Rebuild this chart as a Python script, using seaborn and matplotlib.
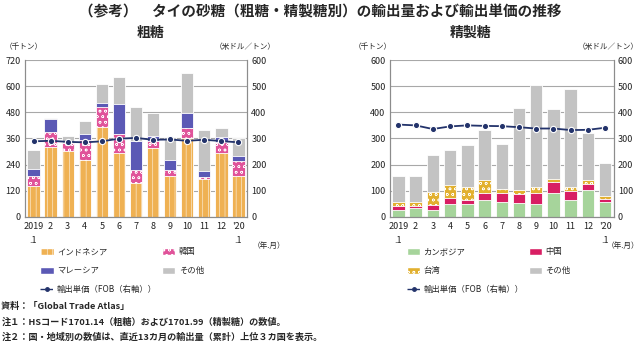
import numpy as np
import pandas as pd
import matplotlib
matplotlib.use("Agg")
import matplotlib.pyplot as plt
import seaborn as sns
from matplotlib.patches import Patch
from matplotlib.lines import Line2D

sns.set_theme(style="white")
plt.rcParams['font.family'] = ['Noto Sans CJK JP', 'DejaVu Sans']
plt.rcParams['hatch.linewidth'] = 0.35

months = ["2019\n.1", "2", "3", "4", "5", "6", "7", "8", "9", "10", "11", "12", "'20\n.1"]

# 粗糖 (thousand tons)
raw_indonesia = [142, 320, 304, 262, 412, 294, 156, 314, 189, 363, 174, 291, 189]
raw_korea     = [44, 69, 35, 89, 91, 87, 61, 32, 28, 43, 11, 51, 66]
raw_malaysia  = [35, 61, 0, 29, 19, 136, 132, 26, 42, 70, 25, 24, 23]
raw_other     = [87, 3, 32, 58, 87, 124, 157, 107, 107, 186, 187, 44, 83]
raw_price     = [289, 291, 287, 285, 289, 299, 302, 295, 296, 291, 295, 290, 285]

# 精製糖
ref_cambodia = [25, 33, 25, 51, 51, 66, 57, 52, 48, 92, 66, 104, 57]
ref_china    = [16, 10, 19, 20, 15, 24, 33, 36, 42, 43, 34, 23, 10]
ref_taiwan   = [15, 13, 51, 51, 50, 51, 17, 16, 23, 10, 13, 14, 11]
ref_other    = [99, 102, 141, 134, 159, 192, 173, 312, 392, 268, 376, 179, 129]
ref_price    = [353, 350, 336, 346, 350, 348, 347, 343, 338, 338, 332, 333, 341]

C_INDO = "#efb153"
C_KOR = "#e0539a"
C_MAL = "#5b59b5"
C_OTH = "#c3c3c3"
C_CAM = "#a6d49b"
C_CHN = "#d81e63"
C_TWN = "#e2b02f"
C_LINE = "#23336b"

H_INDO = "|||"
H_KOR = "ooo"
H_TWN = "ooo"

fig = plt.figure(figsize=(6.4, 3.41), dpi=100)

def stacked(ax, series, colors, hatches):
    n = len(months)
    cum = np.cumsum(np.array(series), axis=0)
    for i in range(len(series) - 1, -1, -1):
        df = pd.DataFrame({"m": months, "v": cum[i]})
        sns.barplot(data=df, x="m", y="v", ax=ax, color=colors[i], saturation=1,
                    width=0.72, edgecolor="white", linewidth=0.6,
                    hatch=hatches[i], order=months)
    ax.set_xlim(-0.5, n - 0.5)

def style_axes(ax, ax2, ymax, ystep, rmax, rstep):
    ax.set_ylim(0, ymax)
    ax.set_yticks(np.arange(0, ymax + 1, ystep))
    ax2.set_ylim(0, rmax)
    ax2.set_yticks(np.arange(0, rmax + 1, rstep))
    ax.grid(axis="y", color="#a8a8a8", linewidth=0.8)
    ax.set_axisbelow(True)
    for a in (ax, ax2):
        for s in a.spines.values():
            s.set_color("#8c8c8c")
            s.set_linewidth(0.8)
        a.spines["top"].set_visible(False)
    ax.set_xlabel("")
    ax.set_ylabel("")
    ax2.set_xlabel("")
    ax2.set_ylabel("")
    ax.tick_params(axis="y", labelsize=6.5, length=0, pad=3, colors="#222222")
    ax2.tick_params(axis="y", labelsize=6.5, length=0, pad=3, colors="#222222")
    ax.set_xticks(range(len(months)))
    ax.set_xticklabels(months, fontsize=6.5, linespacing=1.7, color="#222222")
    ax.tick_params(axis="x", length=0, pad=4)
    ax.set_xticks(np.arange(-0.5, len(months)), minor=True)
    ax.tick_params(axis="x", which="minor", length=3, color="#8c8c8c", width=0.8)

def price_line(ax2, price):
    sns.lineplot(x=np.arange(len(months)), y=price, ax=ax2, color=C_LINE,
                 linewidth=1.3, marker="o", markersize=4.5,
                 markerfacecolor=C_LINE, markeredgecolor="white", markeredgewidth=0.8)

# ---- Left: 粗糖
axL = fig.add_axes([0.039, 0.364, 0.347, 0.46])
stacked(axL, [raw_indonesia, raw_korea, raw_malaysia, raw_other],
        [C_INDO, C_KOR, C_MAL, C_OTH], [H_INDO, H_KOR, None, None])
axL2 = axL.twinx()
price_line(axL2, raw_price)
style_axes(axL, axL2, 720, 120, 600, 100)

# ---- Right: 精製糖
axR = fig.add_axes([0.609, 0.364, 0.35, 0.46])
stacked(axR, [ref_cambodia, ref_china, ref_taiwan, ref_other],
        [C_CAM, C_CHN, C_TWN, C_OTH], [None, None, H_TWN, None])
axR2 = axR.twinx()
price_line(axR2, ref_price)
style_axes(axR, axR2, 600, 100, 600, 100)

# ---- Texts
fig.text(0.5, 0.99, "（参考）　タイの砂糖（粗糖・精製糖別）の輸出量および輸出単価の推移",
         ha="center", va="top", fontsize=10.5, fontweight="bold")
fig.text(0.235, 0.925, "粗糖", ha="center", va="top", fontsize=10, fontweight="bold")
fig.text(0.735, 0.925, "精製糖", ha="center", va="top", fontsize=10, fontweight="bold")
fig.text(0.008, 0.862, "（千トン）", ha="left", va="center", fontsize=5.5)
fig.text(0.43, 0.862, "（米ドル／トン）", ha="right", va="center", fontsize=5.5)
fig.text(0.553, 0.862, "（千トン）", ha="left", va="center", fontsize=5.5)
fig.text(0.998, 0.862, "（米ドル／トン）", ha="right", va="center", fontsize=5.5)
fig.text(0.395, 0.28, "（年.月）", ha="left", va="center", fontsize=5.5)
fig.text(0.999, 0.28, "（年.月）", ha="right", va="center", fontsize=5.5)

def legend(x, labels, colors, hatches):
    handles = [Patch(facecolor=colors[0], edgecolor="white", hatch=hatches[0], label=labels[0]),
               Patch(facecolor=colors[2], edgecolor="white", hatch=hatches[2], label=labels[2]),
               Line2D([], [], color=C_LINE, linestyle="--", linewidth=1.0, marker="o",
                      markersize=2.5, label="輸出単価（FOB（右軸））"),
               Patch(facecolor=colors[1], edgecolor="white", hatch=hatches[1], label=labels[1]),
               Patch(facecolor=colors[3], edgecolor="white", hatch=hatches[3], label=labels[3])]
    fig.legend(handles=handles, loc="upper left", bbox_to_anchor=(x, 0.29), ncol=2,
               frameon=False, fontsize=6, handlelength=1.6, handleheight=1.0,
               handletextpad=0.4, columnspacing=0.6, labelspacing=1.2,
               borderpad=0.1)

legend(0.055, ["インドネシア", "韓国", "マレーシア", "その他"],
       [C_INDO, C_KOR, C_MAL, C_OTH], [H_INDO, H_KOR, None, None])
legend(0.628, ["カンボジア", "中国", "台湾", "その他"],
       [C_CAM, C_CHN, C_TWN, C_OTH], [None, None, H_TWN, None])

notes = ["資料：「Global Trade Atlas」",
         "注１：HSコード1701.14（粗糖）および1701.99（精製糖）の数値。",
         "注２：国・地域別の数値は、直近13カ月の輸出量（累計）上位３カ国を表示。"]
for i, t in enumerate(notes):
    fig.text(0.002, 0.1 - i * 0.044, t, ha="left", va="center", fontsize=6.6, fontweight="bold")

fig.savefig("out.png", dpi=100)
